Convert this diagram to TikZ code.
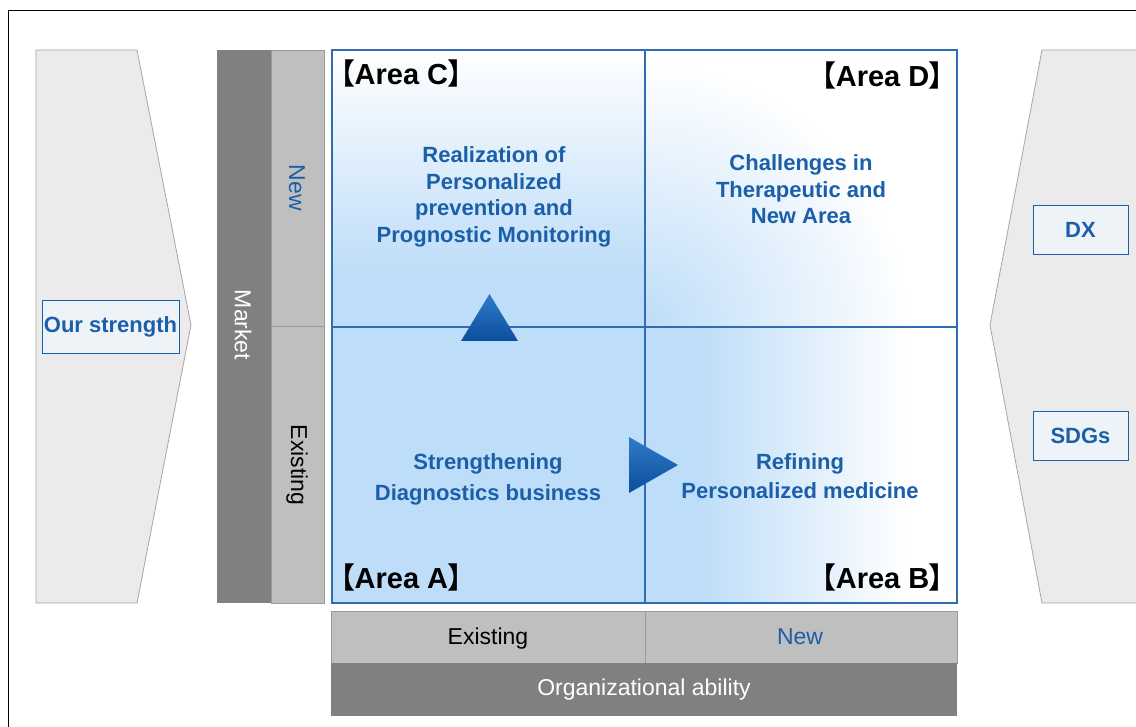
\documentclass[tikz,border=0pt]{standalone}
\usepackage{fontspec}
\setmainfont{Liberation Sans}
\newfontfamily\cjk[RawFeature=+palt, BoldFont={Noto Sans CJK JP Bold}]{Noto Sans CJK JP}
\usetikzlibrary{shadings}
\definecolor{bluetext}{HTML}{1B5FAA}
\definecolor{qline}{HTML}{2E6DB4}
\definecolor{lb}{HTML}{BEDDF8}
\definecolor{tritop}{HTML}{2F7BC9}
\definecolor{tribot}{HTML}{0B4E9D}
\definecolor{graycol}{HTML}{BFBFBF}
\definecolor{graydark}{HTML}{808080}
\definecolor{graydiv}{HTML}{9A9A9A}
\definecolor{shapegray}{HTML}{EBEBEB}
\definecolor{shapeline}{HTML}{A6A6A6}
\definecolor{tagfill}{HTML}{EEF3F8}
\newcommand\areatag[1]{{\cjk 【}#1{\cjk 】}}
\begin{document}
\begin{tikzpicture}[x=1pt,y=-1pt,
  shapebg/.style={fill=shapegray, draw=shapeline, line width=0.8pt},
  tagbox/.style={draw=bluetext, fill=tagfill, line width=0.8pt, inner sep=0pt,
     font=\fontsize{22}{26}\selectfont\bfseries, text=bluetext},
  areatxt/.style={font=\fontsize{29}{31}\selectfont\bfseries, text=black, inner sep=0pt},
  bluetxt/.style={font=\fontsize{22}{26.5}\selectfont\bfseries, text=bluetext, align=center, inner sep=0pt},
  lbl/.style={font=\fontsize{23}{26}\selectfont, inner sep=0pt},
  qdiv/.style={draw=qline, line width=1.3pt},
  tri/.style={top color=tritop, bottom color=tribot}
]
\useasboundingbox (0,0) rectangle (1136,727);
% outer frame
\coordinate (fbl) at (8,727);
\coordinate (ftl) at (8,11);
\coordinate (ftr) at (1136,11);
\draw[line width=1pt] (fbl) -- (ftl) -- (ftr);

% left chevron
\path[shapebg] (36,50) -- (137,50) -- (191,325) -- (137,603) -- (36,603) -- cycle;
\node[tagbox, minimum width=137, minimum height=53] (ours) at (110.5,326.5) {Our strength};

% right chevron
\path[fill=shapegray] (1136,50) -- (1042,50) -- (990,325) -- (1042,603) -- (1136,603) -- cycle;
\draw[draw=shapeline, line width=0.8pt] (1136,50) -- (1042,50) -- (990,325) -- (1042,603) -- (1136,603);
\node[tagbox, minimum width=95, minimum height=49] (dx) at (1080.5,229.5) {DX};
\node[tagbox, minimum width=95, minimum height=49] (sdgs) at (1080.5,435.5) {SDGs};

% market columns
\fill[graydark] (217,50) rectangle (271,603);
\filldraw[fill=graycol, draw=graydiv, line width=0.6pt] (271,50) rectangle (324,326);
\filldraw[fill=graycol, draw=graydiv, line width=0.6pt] (271,326) rectangle (324,603);
\node[lbl, text=white, rotate=-90] (market) at (243,325) {Market};
\node[lbl, text=bluetext, rotate=-90] (mnew) at (297,188) {New};
\node[lbl, text=black, rotate=-90] (mexist) at (297,465) {Existing};

% bottom bars
\filldraw[fill=graycol, draw=graydiv, line width=0.6pt] (331,611) rectangle (645,663);
\filldraw[fill=graycol, draw=graydiv, line width=0.6pt] (645,611) rectangle (957,663);
\fill[graydark] (331,663) rectangle (957,716);
\node[lbl, text=black] (oexist) at (488,639) {Existing};
\node[lbl, text=bluetext] (onew) at (800,637) {New};
\node[lbl, text=white] (org) at (644,690) {Organizational ability};

% quadrant fills
% Area A
\fill[lb] (332,327) rectangle (645,603);
% Area C
\shade[top color=white, bottom color=lb] (332,50) rectangle (645,272);
\fill[lb] (332,271.5) rectangle (645,327);
% Area B
\fill[lb] (645,327) rectangle (700,603);
\shade[left color=lb, right color=white] (699.5,327) rectangle (910,603);
% Area D
\begin{scope}
  \clip (645,50) rectangle (957,327);
  \shade[inner color=lb, outer color=white] (645,327) circle (265);
\end{scope}

% quadrant lines
\draw[qdiv] (332,50) rectangle (957,603);
\draw[qdiv] (645,50) -- (645,603);
\draw[qdiv] (332,327) -- (957,327);

% triangles
\shade[tri] (461,341) -- (489.5,294) -- (518,341) -- cycle;
\shade[tri] (629,437) -- (678,465) -- (629,493) -- cycle;

% area labels
\node[areatxt, anchor=west] (ac) at (340,73) {\areatag{Area C}};
\node[areatxt, anchor=east] (ad) at (944,75) {\areatag{Area D}};
\node[areatxt, anchor=west] (aa) at (340,577) {\areatag{Area A}};
\node[areatxt, anchor=east] (ab) at (944,577) {\areatag{Area B}};

% quadrant texts
\node[bluetxt] (tc) at (494,197) {Realization of\\Personalized\\prevention and\\Prognostic Monitoring};
\node[bluetxt] (td) at (801,189.5) {Challenges in\\Therapeutic and\\New Area};
\node[bluetxt, font=\fontsize{22}{31}\selectfont\bfseries] (ta) at (488,479.5) {Strengthening\\Diagnostics business};
\node[bluetxt, font=\fontsize{22}{29}\selectfont\bfseries] (tb) at (800,476.5) {Refining\\Personalized medicine};
\end{tikzpicture}
\end{document}
